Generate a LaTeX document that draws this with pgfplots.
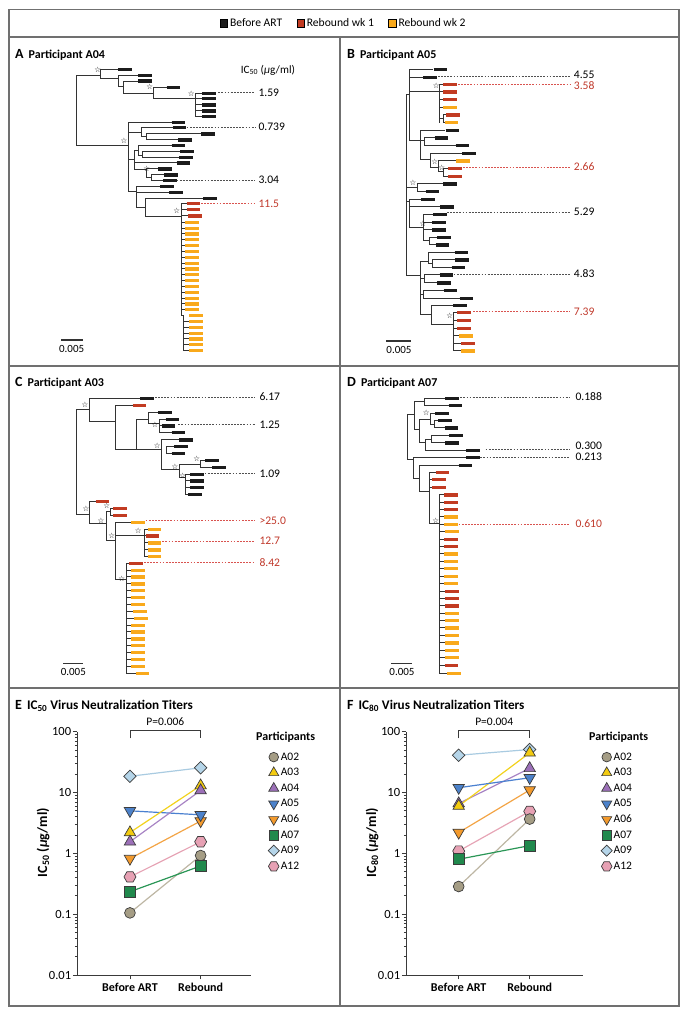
\documentclass[border=0pt]{standalone}
\usepackage{fontspec}
\setmainfont{Carlito}
\newfontfamily\djv{DejaVu Sans}
\usepackage{pgfplots}
\pgfplotsset{compat=1.18}

\definecolor{tipblack}{HTML}{1C1C1C}
\definecolor{tipred}{HTML}{C23B22}
\definecolor{tiporange}{HTML}{F9A91B}
\definecolor{branchc}{HTML}{333333}
\definecolor{redtext}{HTML}{C0392B}
\definecolor{dashblack}{HTML}{505050}
\definecolor{dashred}{HTML}{D9534F}
\definecolor{framec}{HTML}{707070}
\definecolor{starc}{HTML}{8A8A8A}
\definecolor{axc}{HTML}{3A3A3A}
\definecolor{outl}{HTML}{3C3C3C}
\definecolor{cA02}{HTML}{A59D85}\definecolor{lA02}{HTML}{BDB6A3}
\definecolor{cA03}{HTML}{F3CB10}\definecolor{lA03}{HTML}{F2D21E}
\definecolor{cA04}{HTML}{9C70B8}\definecolor{lA04}{HTML}{A884C4}
\definecolor{cA05}{HTML}{4C82CB}\definecolor{lA05}{HTML}{4A80D0}
\definecolor{cA06}{HTML}{F39A2C}\definecolor{lA06}{HTML}{F3A445}
\definecolor{cA07}{HTML}{21894D}\definecolor{lA07}{HTML}{2A9656}
\definecolor{cA09}{HTML}{B5D5E9}\definecolor{lA09}{HTML}{A9CBE1}
\definecolor{cA12}{HTML}{E7A1B4}\definecolor{lA12}{HTML}{E6A5B6}

\pgfdeclareplotmark{hexagon*}{%
  \pgfpathmoveto{\pgfpoint{\pgfplotmarksize}{0pt}}%
  \pgfpathlineto{\pgfpoint{0.5\pgfplotmarksize}{0.866\pgfplotmarksize}}%
  \pgfpathlineto{\pgfpoint{-0.5\pgfplotmarksize}{0.866\pgfplotmarksize}}%
  \pgfpathlineto{\pgfpoint{-\pgfplotmarksize}{0pt}}%
  \pgfpathlineto{\pgfpoint{-0.5\pgfplotmarksize}{-0.866\pgfplotmarksize}}%
  \pgfpathlineto{\pgfpoint{0.5\pgfplotmarksize}{-0.866\pgfplotmarksize}}%
  \pgfpathclose
  \pgfusepathqfillstroke}

\pgfplotsset{
  treeax/.style={scale only axis, hide axis, clip=false, y dir=reverse, xmin=0, ymin=0, anchor=south west},
  branch/.style={quiver={u=\thisrow{x2}-\thisrow{x1},v=\thisrow{y2}-\thisrow{y1}}, draw=branchc, line width=1pt, line cap=rect},
  tip/.style={quiver={u=41,v=0}, line width=3.3pt, draw=#1},
  dashseg/.style={quiver={u=\thisrow{x2}-\thisrow{x},v=0}, draw=#1, line width=0.65pt, dash pattern=on 1.8pt off 1.3pt},
  starmk/.style={only marks, mark=text, text mark={\djv\fontsize{7.5}{7.5}\selectfont ☆}, color=starc},
  mkA02/.style={mark=*, mark size=#1, mark options={fill=cA02, draw=outl, line width=0.7pt}}, mkA02/.default=5.4pt,
  mkA03/.style={mark=triangle*, mark size=#1, mark options={fill=cA03, draw=outl, line width=0.7pt}}, mkA03/.default=6.6pt,
  mkA04/.style={mark=triangle*, mark size=#1, mark options={fill=cA04, draw=outl, line width=0.7pt}}, mkA04/.default=6.6pt,
  mkA05/.style={mark=triangle*, mark size=#1, mark options={fill=cA05, draw=outl, line width=0.7pt, rotate=180}}, mkA05/.default=6.6pt,
  mkA06/.style={mark=triangle*, mark size=#1, mark options={fill=cA06, draw=outl, line width=0.7pt, rotate=180}}, mkA06/.default=6.6pt,
  mkA07/.style={mark=square*, mark size=#1, mark options={fill=cA07, draw=outl, line width=0.7pt}}, mkA07/.default=5.5pt,
  mkA09/.style={mark=square*, mark size=#1, mark options={fill=cA09, draw=outl, line width=0.7pt, rotate=45}}, mkA09/.default=4.4pt,
  mkA12/.style={mark=hexagon*, mark size=#1, mark options={fill=cA12, draw=outl, line width=0.7pt}}, mkA12/.default=6pt,
  lns/.style={forget plot, line width=1.2pt},
}

\newcommand\ptitle[2]{{\fontsize{14}{14}\selectfont\bfseries #1}\hspace{5pt}{\fontsize{12}{12}\selectfont\bfseries #2}}
\newcommand\etitle[2]{{\fontsize{14}{14}\selectfont\bfseries #1}\hspace{5pt}{\fontsize{13.2}{13.2}\selectfont\bfseries #2}}
\newcommand\lbl{\fontsize{11.6}{11.6}\selectfont}

\begin{document}
\begin{tikzpicture}[x=1pt,y=1pt]
\path[use as bounding box] (0,0) rectangle (689,1016);

% ---------- frame ----------
\draw[framec, line width=1.1pt] (9,1006.5) rectangle (679,10);
\draw[framec, line width=1.1pt] (9,979) -- (679,979);
\draw[framec, line width=1.1pt] (9,650) -- (679,650);
\draw[framec, line width=1.1pt] (9,328) -- (679,328);
\draw[framec, line width=1.1pt] (340,979) -- (340,10);

% ---------- top legend ----------
\begin{axis}[at={(9pt,979pt)}, anchor=south west, scale only axis, width=670pt, height=27.5pt, hide axis,
  xmin=0, xmax=1, ymin=0, ymax=1, legend columns=3,
  legend style={at={(0.5,0.5)}, anchor=center, draw=none, fill=none, inner sep=0pt,
    font=\fontsize{11.6}{12}\selectfont, nodes={inner sep=2.5pt},
    /tikz/every even column/.append style={column sep=12pt}},
  legend image code/.code={\draw[#1] plot coordinates {(0pt,0pt)};}]
\addlegendimage{mark=square*, mark size=3.8pt, mark options={draw=none, fill=tipblack}}
\addlegendentry{Before ART}
\addlegendimage{mark=square*, mark size=3.8pt, mark options={draw=none, fill=tipred}}
\addlegendentry{Rebound wk 1}
\addlegendimage{mark=square*, mark size=3.8pt, mark options={draw=none, fill=tiporange}}
\addlegendentry{Rebound wk 2}
\end{axis}

% ---------- titles ----------
\node[anchor=base west, inner sep=0] at (15,957) {\ptitle{A}{Participant A04}};
\node[anchor=base west, inner sep=0] at (347,957) {\ptitle{B}{Participant A05}};
\node[anchor=base west, inner sep=0] at (15,629) {\ptitle{C}{Participant A03}};
\node[anchor=base west, inner sep=0] at (347,629) {\ptitle{D}{Participant A07}};
\node[anchor=base west, inner sep=0] at (15,306.5) {\etitle{E}{IC\textsubscript{50} Virus Neutralization Titers}};
\node[anchor=base west, inner sep=0] at (347,306.5) {\etitle{F}{IC\textsubscript{80} Virus Neutralization Titers}};

% ================= Tree A =================
\begin{axis}[treeax, at={(0pt,641pt)}, width=345pt, height=340pt, xmax=1035, ymax=1020]
\addplot[branch] table {
x1 y1 x2 y2
230 122 230 333
300 103 300 130
355 122 355 155
370 140 370 175
460 157 460 192
585 175 585 245
385 262 385 470
425 278 425 306
440 297 440 315
403 348 403 405
415 332 415 362
428 350 428 367
440 402 440 428
455 420 455 437
410 455 410 518
435 490 435 545
545 505 545 842
550 842 550 947
230 122 300 122
300 103 353 103
300 130 355 130
355 122 413 122
355 155 370 155
370 140 413 140
370 175 460 175
460 157 498 157
460 192 585 192
585 175 605 175
585 190 605 190
585 210 605 210
585 228 605 228
585 245 605 245
230 333 385 333
385 262 513 262
385 292 425 292
425 278 516 278
425 306 440 306
440 297 601 297
440 315 533 315
385 375 403 375
403 348 415 348
415 332 513 332
415 362 428 362
428 350 538 350
428 367 536 367
403 384 528 384
403 405 440 405
440 402 473 402
440 428 455 428
455 420 490 420
455 437 488 437
385 470 410 470
410 455 478 455
410 472 505 472
410 518 435 518
435 490 608 490
435 545 545 545
545 505 558 505
545 524 558 524
545 543 563 543
545 562 553 562
545 579.5 553 579.5
545 597 553 597
545 614.5 553 614.5
545 632 553 632
545 649.5 553 649.5
545 667 553 667
545 684.5 553 684.5
545 702 553 702
545 719.5 553 719.5
545 737 553 737
545 754.5 553 754.5
545 772 553 772
545 789.5 553 789.5
545 807 553 807
545 824.5 553 824.5
545 842 550 842
550 859.5 566 859.5
550 877 566 877
550 894.5 566 894.5
550 912 566 912
550 929.5 566 929.5
550 947 566 947
};
\addplot[tip=tipblack] table {
x y
355 103
415 122
415 138
500 157
607 175
607 190
607 210
607 228
607 245
515 262
518 278
603 297
535 315
515 332
540 350
538 367
530 384
475 402
492 420
490 437
480 455
507 472
610 490
};
\addplot[tip=tipred] table {
x y
560 505
560 524
565 543
};
\addplot[tip=tiporange] table {
x y
555 562
555 579.5
555 597
555 614.5
555 632
555 649.5
555 667
555 684.5
555 702
555 719.5
555 737
555 754.5
555 772
555 789.5
555 807
555 824.5
568 842
568 859.5
568 877
568 894.5
568 912
568 929.5
568 947
};
\addplot[dashseg=dashblack] table {
x y x2
655 173 765
560 276 765
530 435 765
};
\addplot[dashseg=dashred] table {
x y x2
603 505 765
};
\addplot[starmk] coordinates {(293,104)(449,154)(574,175)(372,318)(440,402)(530,528)};
\addplot[branchc, line width=1.1pt] coordinates {(183,915)(248,915)};
\node[anchor=west, inner sep=0] at (axis cs:722,105) {\fontsize{11.2}{12}\selectfont IC\textsubscript{50} ({\itshape µ}g/ml)};
\node[anchor=west, inner sep=0] at (axis cs:775,173) {\lbl 1.59};
\node[anchor=west, inner sep=0] at (axis cs:775,276) {\lbl 0.739};
\node[anchor=west, inner sep=0] at (axis cs:775,435) {\lbl 3.04};
\node[anchor=west, inner sep=0, text=redtext] at (axis cs:775,505) {\lbl 11.5};
\node[inner sep=0] at (axis cs:215,942) {\fontsize{11}{11}\selectfont 0.005};
\end{axis}

% ================= Tree B =================
\begin{axis}[treeax, at={(343pt,641pt)}, width=346pt, height=340pt, xmax=1038, ymax=1020]
\addplot[branch] table {
x1 y1 x2 y2
190 180 190 722
200 103 200 318
290 148 290 263
300 240 300 263
232 287 232 375
245 309 245 332
262 355 262 397
285 378 285 410
302 401 302 424
222 447 222 469
198 493 198 578
240 539 240 618
258 607 258 630
232 680 232 840
255 652 255 686
268 675 268 698
245 720 245 744
240 767 240 790
265 812 265 870
330 833 330 948
190 180 200 180
200 103 268 103
200 127 238 127
200 170 290 170
290 148 298 148
290 171 298 171
290 194 298 194
290 217 298 217
290 252 300 252
300 240 308 240
300 263 303 263
200 318 232 318
232 287 305 287
232 318 245 318
245 309 273 309
245 332 336 332
232 375 262 375
262 355 355 355
262 397 285 397
285 378 338 378
285 410 302 410
302 401 314 401
302 424 314 424
190 458 222 458
222 447 298 447
222 469 246 469
190 500 198 500
198 493 233 493
198 516 290 516
198 578 240 578
240 539 268 539
240 562 266 562
240 585 266 585
240 618 258 618
258 607 280 607
258 630 276 630
190 722 232 722
232 680 255 680
255 652 333 652
255 686 268 686
268 675 334 675
268 698 324 698
232 730 245 730
245 720 288 720
245 744 281 744
232 778 240 778
240 767 300 767
240 790 348 790
232 840 265 840
265 812 328 812
265 870 330 870
330 833 341 833
330 857 341 857
330 880 341 880
330 903 346 903
330 926 353 926
330 948 353 948
};
\addplot[tip=tipblack] table {
x y
272 103
240 127
308 287
275 309
338 332
357 355
300 447
248 469
235 493
292 516
270 539
268 562
268 585
282 607
278 630
335 652
336 675
326 698
290 720
283 744
302 767
350 790
330 812
};
\addplot[tip=tipred] table {
x y
300 148
300 171
300 194
310 240
316 401
316 424
343 833
343 857
343 880
355 926
};
\addplot[tip=tiporange] table {
x y
300 217
305 263
340 378
348 903
355 948
};
\addplot[dashseg=dashblack] table {
x y x2
285 124 680
312 532 680
332 717 680
};
\addplot[dashseg=dashred] table {
x y x2
345 148 680
360 397 680
390 830 680
};
\addplot[starmk] coordinates {(280,153)(275,381)(296,398)(210,443)(240,566)(320,843)};
\addplot[branchc, line width=1.1pt] coordinates {(130,918)(205,918)};
\node[anchor=west, inner sep=0] at (axis cs:692,118) {\lbl 4.55};
\node[anchor=west, inner sep=0, text=redtext] at (axis cs:692,152) {\lbl 3.58};
\node[anchor=west, inner sep=0, text=redtext] at (axis cs:692,396) {\lbl 2.66};
\node[anchor=west, inner sep=0] at (axis cs:692,531) {\lbl 5.29};
\node[anchor=west, inner sep=0] at (axis cs:692,716) {\lbl 4.83};
\node[anchor=west, inner sep=0, text=redtext] at (axis cs:692,830) {\lbl 7.39};
\node[inner sep=0] at (axis cs:168,944) {\fontsize{11}{11}\selectfont 0.005};
\end{axis}

% ================= Tree C =================
\begin{axis}[treeax, at={(0pt,326pt)}, width=345pt, height=320pt, xmax=1035, ymax=960]
\addplot[branch] table {
x1 y1 x2 y2
230 118 230 433
268 85 268 155
345 106 345 240
410 150 410 240
445 128 445 160
478 148 478 188
485 210 485 300
500 230 500 250
537 285 537 322
600 271 600 292
555 313 555 374
268 394 268 460
318 425 318 512
330 415 330 436
345 457 345 628
432 478 432 560
380 580 380 910
230 118 268 118
268 85 418 85
268 155 345 155
345 106 396 106
345 240 485 240
410 150 445 150
445 128 472 128
445 160 478 160
478 148 495 148
478 168 483 168
478 188 513 188
485 210 535 210
500 230 520 230
500 250 513 250
485 300 537 300
537 285 600 285
600 271 613 271
600 292 635 292
537 322 555 322
555 313 568 313
555 333 568 333
555 353 568 353
555 374 563 374
230 433 268 433
268 394 285 394
268 460 318 460
318 425 330 425
330 415 338 415
330 436 338 436
318 512 345 512
345 457 391 457
345 498 432 498
432 478 441 478
432 498 435 498
432 519 441 519
432 540 441 540
432 560 441 560
345 628 380 628
380 580 386 580
380 601 391 601
380 621 391 621
380 642 391 642
380 662 391 662
380 683 391 683
380 704 391 704
380 724 398 724
380 745 401 745
380 766 391 766
380 786 391 786
380 807 391 807
380 827 391 827
380 848 391 848
380 869 391 869
380 889 391 889
380 910 405 910
};
\addplot[tip=tipblack] table {
x y
420 85
474 128
497 148
485 168
515 188
537 210
522 230
515 250
615 271
637 292
570 313
570 333
570 353
565 374
};
\addplot[tip=tipred] table {
x y
398 106
287 394
340 415
340 436
437 498
388 580
};
\addplot[tip=tiporange] table {
x y
393 457
443 478
443 519
443 540
443 560
393 601
393 621
393 642
393 662
393 683
393 704
400 724
403 745
393 766
393 786
393 807
393 827
393 848
393 869
393 889
407 910
};
\addplot[dashseg=dashblack] table {
x y x2
465 82 765
535 164 765
614 311 765
};
\addplot[dashseg=dashred] table {
x y x2
437 452 765
487 514 765
432 578 765
};
\addplot[starmk] coordinates {(255,103)(465,163)(472,226)(525,290)(590,266)(548,318)(258,416)(320,408)(303,453)(335,496)(415,483)(365,626)};
\addplot[branchc, line width=1.1pt] coordinates {(190,880)(250,880)};
\node[anchor=west, inner sep=0] at (axis cs:778,81) {\lbl 6.17};
\node[anchor=west, inner sep=0] at (axis cs:778,163) {\lbl 1.25};
\node[anchor=west, inner sep=0] at (axis cs:778,310) {\lbl 1.09};
\node[anchor=west, inner sep=0, text=redtext] at (axis cs:778,451) {\lbl >25.0};
\node[anchor=west, inner sep=0, text=redtext] at (axis cs:778,513) {\lbl 12.7};
\node[anchor=west, inner sep=0, text=redtext] at (axis cs:778,577) {\lbl 8.42};
\node[inner sep=0] at (axis cs:220,906) {\fontsize{11}{11}\selectfont 0.005};
\end{axis}

% ================= Tree D =================
\begin{axis}[treeax, at={(343pt,326pt)}, width=346pt, height=320pt, xmax=1038, ymax=960]
\addplot[branch] table {
x1 y1 x2 y2
192 135 192 270
215 96 215 180
245 85 245 107
230 150 230 218
262 130 262 163
275 152 275 174
248 208 248 241
265 197 265 219
210 263 210 325
228 286 228 365
258 308 258 462
290 375 290 910
192 135 215 135
215 96 245 96
245 85 305 85
245 107 315 107
215 180 230 180
230 150 262 150
262 130 275 130
262 163 275 163
275 152 283 152
275 174 303 174
230 218 248 218
248 208 265 208
265 197 316 197
265 219 305 219
248 241 368 241
192 270 210 270
210 263 368 263
210 325 228 325
228 286 345 286
228 365 258 365
258 308 276 308
258 329 266 329
258 352 266 352
258 462 290 462
290 375 301 375
290 397 301 397
290 419 301 419
290 441 301 441
290 463 301 463
290 485 305 485
290 508 301 508
290 530 301 530
290 552 301 552
290 574 301 574
290 596 301 596
290 619 301 619
290 641 301 641
290 664 305 664
290 686 305 686
290 708 305 708
290 730 305 730
290 752 305 752
290 774 305 774
290 797 305 797
290 819 305 819
290 841 305 841
290 863 305 863
290 886 303 886
290 910 310 910
};
\addplot[tip=tipblack] table {
x y
307 85
317 107
277 130
285 152
305 174
318 197
307 219
370 241
370 263
347 286
};
\addplot[tip=tipred] table {
x y
278 308
268 329
268 352
303 375
303 397
303 419
303 508
303 530
307 664
307 686
307 708
305 886
};
\addplot[tip=tiporange] table {
x y
303 441
303 463
307 485
303 552
303 574
303 596
303 619
303 641
307 730
307 752
307 774
307 797
307 819
307 841
307 863
312 910
};
\addplot[dashseg=dashblack] table {
x y x2
352 82 680
428 238 680
412 261 680
};
\addplot[dashseg=dashred] table {
x y x2
347 462 680
};
\addplot[starmk] coordinates {(250,128)(278,453)};
\addplot[branchc, line width=1.1pt] coordinates {(145,880)(208,880)};
\node[anchor=west, inner sep=0] at (axis cs:697,81) {\lbl 0.188};
\node[anchor=west, inner sep=0] at (axis cs:697,227) {\lbl 0.300};
\node[anchor=west, inner sep=0] at (axis cs:697,261) {\lbl 0.213};
\node[anchor=west, inner sep=0, text=redtext] at (axis cs:697,462) {\lbl 0.610};
\node[inner sep=0] at (axis cs:177,906) {\fontsize{11}{11}\selectfont 0.005};
\end{axis}

% ================= Panel E =================
\begin{semilogyaxis}[at={(77.3pt,41pt)}, anchor=south west, scale only axis, width=173.4pt, height=243.3pt,
    xmin=-0.745, xmax=1.708, ymin=0.01, ymax=100,
    axis lines*=left, axis line style={line width=1pt, color=axc},
    tick align=outside, major tick length=4.5pt, minor tick length=2.5pt,
    tick style={line width=0.8pt, color=axc},
    xtick={0,1}, xticklabels={Before ART,Rebound},
    ytick={0.01,0.1,1,10,100}, yticklabels={0.01,0.1,1,10,100},
    minor ytick={0.02,0.03,0.04,0.05,0.06,0.07,0.08,0.09,0.2,0.3,0.4,0.5,0.6,0.7,0.8,0.9,2,3,4,5,6,7,8,9,20,30,40,50,60,70,80,90},
    xticklabel style={font=\bfseries\fontsize{12}{12}\selectfont},
    yticklabel style={font=\fontsize{12.5}{12.5}\selectfont, inner sep=1.5pt},
    clip=false,
    legend style={at={(axis description cs:1.10,0.923)}, anchor=north west, draw=none, fill=none, inner sep=0pt, row sep=2.6pt,
      font=\fontsize{11.5}{12}\selectfont, cells={anchor=west}, nodes={inner sep=1.5pt, text height=8pt, text depth=2pt}},
    legend cell align=left,
    legend image code/.code={\draw[#1] plot coordinates {(0pt,0pt)};}]
\addplot[lns, lA09] coordinates {(0,18.5)(1,25.5)};
\addplot[lns, lA12] coordinates {(0,0.41)(1,1.55)};
\addplot[lns, lA02] coordinates {(0,0.105)(1,0.92)};
\addplot[lns, lA07] coordinates {(0,0.234)(1,0.62)};
\addplot[lns, lA06] coordinates {(0,0.82)(1,3.4)};
\addplot[lns, lA05] coordinates {(0,5.0)(1,4.3)};
\addplot[lns, lA03] coordinates {(0,2.2)(1,13.0)};
\addplot[lns, lA04] coordinates {(0,1.55)(1,10.8)};
\addplot[only marks, forget plot, mkA09] coordinates {(0,18.5)(1,25.5)};
\addplot[only marks, forget plot, mkA12] coordinates {(0,0.41)(1,1.55)};
\addplot[only marks, forget plot, mkA02] coordinates {(0,0.105)(1,0.92)};
\addplot[only marks, forget plot, mkA07] coordinates {(0,0.234)(1,0.62)};
\addplot[only marks, forget plot, mkA06] coordinates {(0,0.82)(1,3.4)};
\addplot[only marks, forget plot, mkA05] coordinates {(0,5.0)(1,4.3)};
\addplot[only marks, forget plot, mkA03] coordinates {(0,2.2)(1,13.0)};
\addplot[only marks, forget plot, mkA04] coordinates {(0,1.55)(1,10.8)};
\draw[axc, line width=0.8pt] (axis cs:0,78) -- (axis cs:0,104) -- (axis cs:1,104) -- (axis cs:1,78);
\node[inner sep=0] at (axis cs:0.5,145) {\fontsize{11.5}{12}\selectfont P=0.006};
\addlegendimage{mkA02=4.8pt}\addlegendentry{A02}
\addlegendimage{mkA03=5.8pt}\addlegendentry{A03}
\addlegendimage{mkA04=5.8pt}\addlegendentry{A04}
\addlegendimage{mkA05=5.8pt}\addlegendentry{A05}
\addlegendimage{mkA06=5.8pt}\addlegendentry{A06}
\addlegendimage{mkA07=4.8pt}\addlegendentry{A07}
\addlegendimage{mkA09=3.9pt}\addlegendentry{A09}
\addlegendimage{mkA12=5.3pt}\addlegendentry{A12}
\end{semilogyaxis}
\node[anchor=west, inner sep=0] at (256,279) {\fontsize{12}{12}\selectfont\bfseries Participants};
\node[rotate=90, inner sep=0] at (43,173.5) {\fontsize{14}{14}\selectfont\bfseries IC\textsubscript{50} ({\itshape µ}g/ml)};

% ================= Panel F =================
\begin{semilogyaxis}[at={(406.3pt,41pt)}, anchor=south west, scale only axis, width=177pt, height=243.3pt,
    xmin=-0.738, xmax=1.755, ymin=0.01, ymax=100,
    axis lines*=left, axis line style={line width=1pt, color=axc},
    tick align=outside, major tick length=4.5pt, minor tick length=2.5pt,
    tick style={line width=0.8pt, color=axc},
    xtick={0,1}, xticklabels={Before ART,Rebound},
    ytick={0.01,0.1,1,10,100}, yticklabels={0.01,0.1,1,10,100},
    minor ytick={0.02,0.03,0.04,0.05,0.06,0.07,0.08,0.09,0.2,0.3,0.4,0.5,0.6,0.7,0.8,0.9,2,3,4,5,6,7,8,9,20,30,40,50,60,70,80,90},
    xticklabel style={font=\bfseries\fontsize{12}{12}\selectfont},
    yticklabel style={font=\fontsize{12.5}{12.5}\selectfont, inner sep=1.5pt},
    clip=false,
    legend style={at={(axis description cs:1.10,0.923)}, anchor=north west, draw=none, fill=none, inner sep=0pt, row sep=2.6pt,
      font=\fontsize{11.5}{12}\selectfont, cells={anchor=west}, nodes={inner sep=1.5pt, text height=8pt, text depth=2pt}},
    legend cell align=left,
    legend image code/.code={\draw[#1] plot coordinates {(0pt,0pt)};}]
\addplot[lns, lA09] coordinates {(0,41)(1,51)};
\addplot[lns, lA12] coordinates {(0,1.09)(1,4.9)};
\addplot[lns, lA02] coordinates {(0,0.285)(1,3.66)};
\addplot[lns, lA04] coordinates {(0,6.6)(1,25)};
\addplot[lns, lA03] coordinates {(0,6.0)(1,45)};
\addplot[lns, lA05] coordinates {(0,12)(1,17.5)};
\addplot[lns, lA06] coordinates {(0,2.2)(1,11)};
\addplot[lns, lA07] coordinates {(0,0.80)(1,1.34)};
\addplot[only marks, forget plot, mkA09] coordinates {(0,41)(1,51)};
\addplot[only marks, forget plot, mkA12] coordinates {(0,1.09)(1,4.9)};
\addplot[only marks, forget plot, mkA02] coordinates {(0,0.285)(1,3.66)};
\addplot[only marks, forget plot, mkA04] coordinates {(0,6.6)(1,25)};
\addplot[only marks, forget plot, mkA03] coordinates {(0,6.0)(1,45)};
\addplot[only marks, forget plot, mkA05] coordinates {(0,12)(1,17.5)};
\addplot[only marks, forget plot, mkA06] coordinates {(0,2.2)(1,11)};
\addplot[only marks, forget plot, mkA07] coordinates {(0,0.80)(1,1.34)};
\draw[axc, line width=0.8pt] (axis cs:0,78) -- (axis cs:0,104) -- (axis cs:1,104) -- (axis cs:1,78);
\node[inner sep=0] at (axis cs:0.5,145) {\fontsize{11.5}{12}\selectfont P=0.004};
\addlegendimage{mkA02=4.8pt}\addlegendentry{A02}
\addlegendimage{mkA03=5.8pt}\addlegendentry{A03}
\addlegendimage{mkA04=5.8pt}\addlegendentry{A04}
\addlegendimage{mkA05=5.8pt}\addlegendentry{A05}
\addlegendimage{mkA06=5.8pt}\addlegendentry{A06}
\addlegendimage{mkA07=4.8pt}\addlegendentry{A07}
\addlegendimage{mkA09=3.9pt}\addlegendentry{A09}
\addlegendimage{mkA12=5.3pt}\addlegendentry{A12}
\end{semilogyaxis}
\node[anchor=west, inner sep=0] at (589,279) {\fontsize{12}{12}\selectfont\bfseries Participants};
\node[rotate=90, inner sep=0] at (372,173.5) {\fontsize{14}{14}\selectfont\bfseries IC\textsubscript{80} ({\itshape µ}g/ml)};

\end{tikzpicture}
\end{document}
